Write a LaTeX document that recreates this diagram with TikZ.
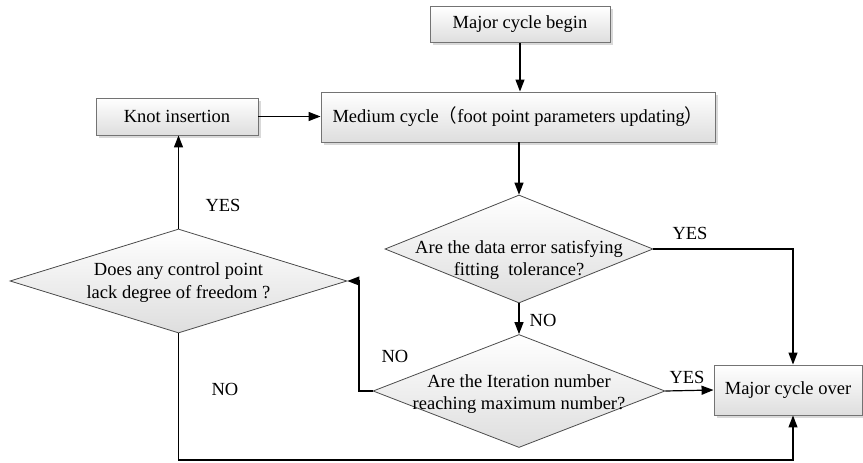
\documentclass[tikz,border=0pt]{standalone}
\usepackage{fontspec}
\setmainfont{Liberation Serif}
\newfontfamily\cjk{Noto Sans CJK SC}
\usetikzlibrary{arrows.meta,shapes.geometric,shadows,calc}
\begin{document}
\begin{tikzpicture}[x=1pt,y=-1pt,
  every node/.style={font=\fontsize{18.5}{22.5}\selectfont},
  box/.style={draw=black!55, line width=0.9pt, top color=white, bottom color=black!13,
    drop shadow={shadow xshift=2.5pt, shadow yshift=-2.5pt, fill=black!25, opacity=0.6},
    inner sep=0pt},
  dia/.style={diamond, draw=black!70, line width=0.8pt, top color=white, bottom color=black!13, inner sep=0pt},
  conn/.style={line width=1.2pt, -{Triangle[length=12pt,width=9pt]}},
  lab/.style={inner sep=0pt}
]
\useasboundingbox (0,0) rectangle (863,463);
% boxes
\node[box, minimum width=180pt, minimum height=36pt] (begin) at (520,24.5) {Major cycle begin};
\node[box, minimum width=394pt, minimum height=50pt] (medium) at (518,117) {Medium cycle{\cjk （}foot point parameters updating{\cjk ）}};
\node[box, minimum width=162pt, minimum height=37pt] (knot) at (177,116.5) {Knot insertion};
\node[box, minimum width=148pt, minimum height=50pt] (over) at (788,390) {Major cycle over};
% diamonds
\node[dia, minimum width=268pt, minimum height=108pt] (d1) at (519,249) {};
\node[lab, align=center] (t1) at (519,260) {Are the data error satisfying\\fitting\ \ tolerance?};
\node[dia, minimum width=292pt, minimum height=113pt] (d2) at (519,391) {};
\node[lab, align=center] (t2) at (519,394) {Are the Iteration number\\reaching maximum number?};
\node[dia, minimum width=337pt, minimum height=104pt] (d3) at (178.5,281) {};
\node[lab, align=center] (t3) at (178.5,282.5) {Does any control point\\lack degree of freedom ?};
% connectors
\coordinate (corner) at (793,460);
\coordinate (turn) at (359,391);
\draw[conn] (begin.south) -- (medium.north -| begin.south);
\draw[conn] (knot.east) -- (medium.west |- knot.east);
\draw[conn] (medium.south -| d1.north) -- (d1.north);
\draw[conn] (d1.east) -| ([xshift=5pt]over.north);
\draw[conn] (d1.south) -- (d2.north);
\draw[conn] (d2.east) -- (over.west);
\draw[conn] (d2.west) -- (turn) |- (d3.east);
\draw[conn] (d3.north) -- (knot.south -| d3.north);
\draw[conn] (d3.south) |- (corner) -- ([xshift=5pt]over.south);
% labels
\node[lab] (y1) at (690,233) {YES};
\node[lab] (n1) at (543,320) {NO};
\node[lab] (y2) at (687,377) {YES};
\node[lab] (n2) at (395,356) {NO};
\node[lab] (y3) at (223,205) {YES};
\node[lab] (n3) at (225,389) {NO};
\end{tikzpicture}
\end{document}
